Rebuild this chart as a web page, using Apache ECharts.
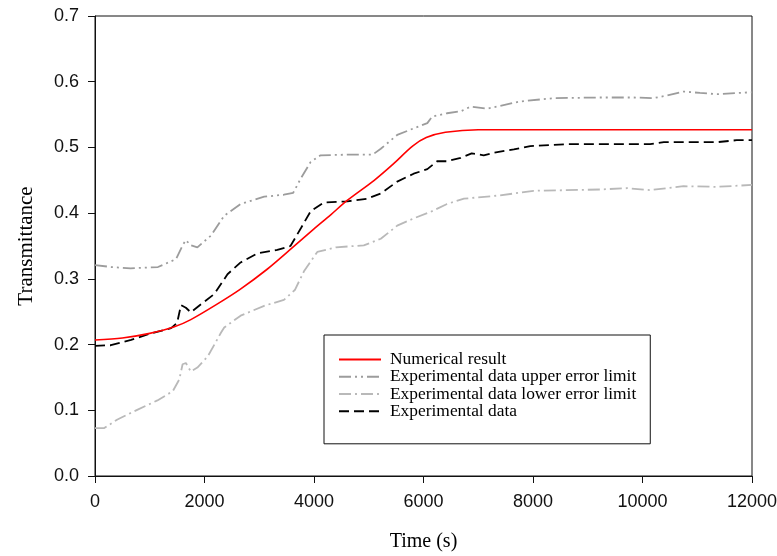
<!DOCTYPE html>
<html>
<head>
<meta charset="utf-8">
<script src="https://cdn.jsdelivr.net/npm/echarts@6/dist/echarts.min.js"></script>
<style>
  html, body { margin: 0; padding: 0; background: #fff; }
  #chart { width: 777px; height: 556px; }
</style>
</head>
<body>
<div id="chart"></div>
<script>
// numerical result
const numTime = [0, 500, 1000, 1450, 1750, 2200, 2650, 3150, 3600, 4000, 4300, 4600, 5100, 5450, 5800, 6050, 6400, 7000, 8000, 10000, 12000];
const numValue = [0.207, 0.210, 0.217, 0.227, 0.238, 0.260, 0.284, 0.315, 0.347, 0.376, 0.397, 0.419, 0.450, 0.475, 0.502, 0.515, 0.523, 0.527, 0.527, 0.527, 0.527];

// upper error limit
const upperTime = [0, 300, 650, 1150, 1480, 1600, 1660, 1750, 1870, 2120, 2360, 2660, 3090, 3450, 3620, 3760, 3940, 4120, 4600, 5070, 5220, 5520, 5820, 6070, 6160, 6430, 6680, 6860, 7160, 7770, 8380, 9230, 9840, 10200, 10450, 10750, 11050, 11360, 12000];
const upperValue = [0.321, 0.318, 0.316, 0.318, 0.330, 0.351, 0.359, 0.351, 0.348, 0.366, 0.396, 0.414, 0.425, 0.428, 0.431, 0.453, 0.478, 0.488, 0.489, 0.489, 0.498, 0.519, 0.529, 0.537, 0.547, 0.552, 0.555, 0.562, 0.559, 0.570, 0.575, 0.576, 0.576, 0.575, 0.579, 0.585, 0.583, 0.581, 0.584];

// lower error limit
const lowerTime = [0, 170, 410, 780, 1140, 1420, 1540, 1600, 1660, 1750, 1870, 2060, 2300, 2360, 2660, 3090, 3450, 3650, 3820, 4060, 4400, 4910, 5220, 5520, 5820, 6130, 6430, 6740, 7400, 8010, 9230, 9720, 10140, 10750, 11360, 12000];
const lowerValue = [0.073, 0.073, 0.086, 0.101, 0.115, 0.129, 0.147, 0.170, 0.172, 0.159, 0.165, 0.182, 0.218, 0.226, 0.244, 0.259, 0.268, 0.283, 0.312, 0.341, 0.348, 0.351, 0.361, 0.381, 0.392, 0.402, 0.414, 0.422, 0.427, 0.434, 0.436, 0.438, 0.435, 0.441, 0.440, 0.443];

// experimental data
const expTime = [0, 290, 660, 1020, 1390, 1500, 1570, 1660, 1750, 1930, 2180, 2420, 2660, 2970, 3330, 3570, 3760, 3940, 4180, 4610, 4970, 5220, 5520, 5820, 6070, 6250, 6430, 6680, 6880, 7100, 7290, 7650, 7950, 8620, 10140, 10390, 11360, 11720, 12000];
const expValue = [0.198, 0.199, 0.207, 0.217, 0.225, 0.233, 0.260, 0.256, 0.249, 0.261, 0.277, 0.307, 0.325, 0.339, 0.344, 0.350, 0.377, 0.403, 0.416, 0.418, 0.422, 0.430, 0.448, 0.460, 0.467, 0.479, 0.479, 0.484, 0.491, 0.488, 0.492, 0.497, 0.502, 0.505, 0.505, 0.508, 0.508, 0.511, 0.511];

const names = [
  'Numerical result',
  'Experimental data upper error limit',
  'Experimental data lower error limit',
  'Experimental data',
];

const zip = (xs, ys) => xs.map((x, i) => [x, ys[i]]);

const serif = '"Liberation Serif", "Times New Roman", serif';
const sans = '"Liberation Sans", Arial, sans-serif';

const chart = echarts.init(document.getElementById('chart'));
chart.setOption({
  backgroundColor: '#fff',
  animation: false,
  grid: {
    left: 95,
    right: 25,
    top: 16,
    bottom: 80,
    show: true,
    borderColor: '#111',
    borderWidth: 1,
    containLabel: false,
    outerBoundsMode: 'none',
  },
  legend: {
    orient: 'vertical',
    left: 324,
    top: 335,
    data: names,
    itemWidth: 42,
    itemHeight: 14,
    itemGap: 0,
    padding: [16, 14, 24, 14],
    borderColor: '#111',
    borderWidth: 1,
    backgroundColor: '#fff',
    itemStyle: { opacity: 0 },
    textStyle: {
      fontFamily: serif,
      fontSize: 17.4,
      color: '#000',
      lineHeight: 17.2,
      padding: [0, 0, 0, 4],
    },
  },
  xAxis: {
    type: 'value',
    min: 0,
    max: 12000,
    interval: 2000,
    name: 'Time (s)',
    nameLocation: 'middle',
    nameGap: 56,
    nameTextStyle: { fontFamily: serif, fontSize: 20, color: '#000' },
    axisLine: { lineStyle: { color: '#111', width: 1 } },
    axisTick: { length: 7, lineStyle: { color: '#111' } },
    axisLabel: {
      margin: 17,
      fontFamily: sans,
      fontSize: 18,
      color: '#111',
      formatter: (v) => String(v),
    },
    splitLine: { show: false },
  },
  yAxis: {
    type: 'value',
    min: 0,
    max: 0.7,
    interval: 0.1,
    name: 'Transmittance',
    nameLocation: 'middle',
    nameGap: 58,
    nameTextStyle: { fontFamily: serif, fontSize: 21, color: '#000' },
    axisLine: { show: true, lineStyle: { color: '#111', width: 1 } },
    axisTick: { show: true, length: 7, lineStyle: { color: '#111' } },
    axisLabel: {
      margin: 16,
      fontFamily: sans,
      fontSize: 18,
      color: '#111',
      formatter: (v) => v.toFixed(1),
    },
    splitLine: { show: false },
  },
  series: [
    {
      name: names[0],
      type: 'line',
      symbol: 'none',
      smooth: 0.3,
      lineStyle: { color: '#ff0000', width: 1.6 },
      itemStyle: { color: '#ff0000' },
      data: zip(numTime, numValue),
      z: 5,
    },
    {
      name: names[1],
      type: 'line',
      symbol: 'none',
      lineStyle: { color: '#9c9c9c', width: 1.8, type: [12, 4, 2, 4, 2, 4] },
      itemStyle: { color: '#9c9c9c' },
      data: zip(upperTime, upperValue),
    },
    {
      name: names[2],
      type: 'line',
      symbol: 'none',
      lineStyle: { color: '#b9b9b9', width: 1.8, type: [12, 4, 2, 4] },
      itemStyle: { color: '#b9b9b9' },
      data: zip(lowerTime, lowerValue),
    },
    {
      name: names[3],
      type: 'line',
      symbol: 'none',
      lineStyle: { color: '#000', width: 1.8, type: [10, 5] },
      itemStyle: { color: '#000' },
      data: zip(expTime, expValue),
      z: 4,
    },
  ],
});
</script>
</body>
</html>
